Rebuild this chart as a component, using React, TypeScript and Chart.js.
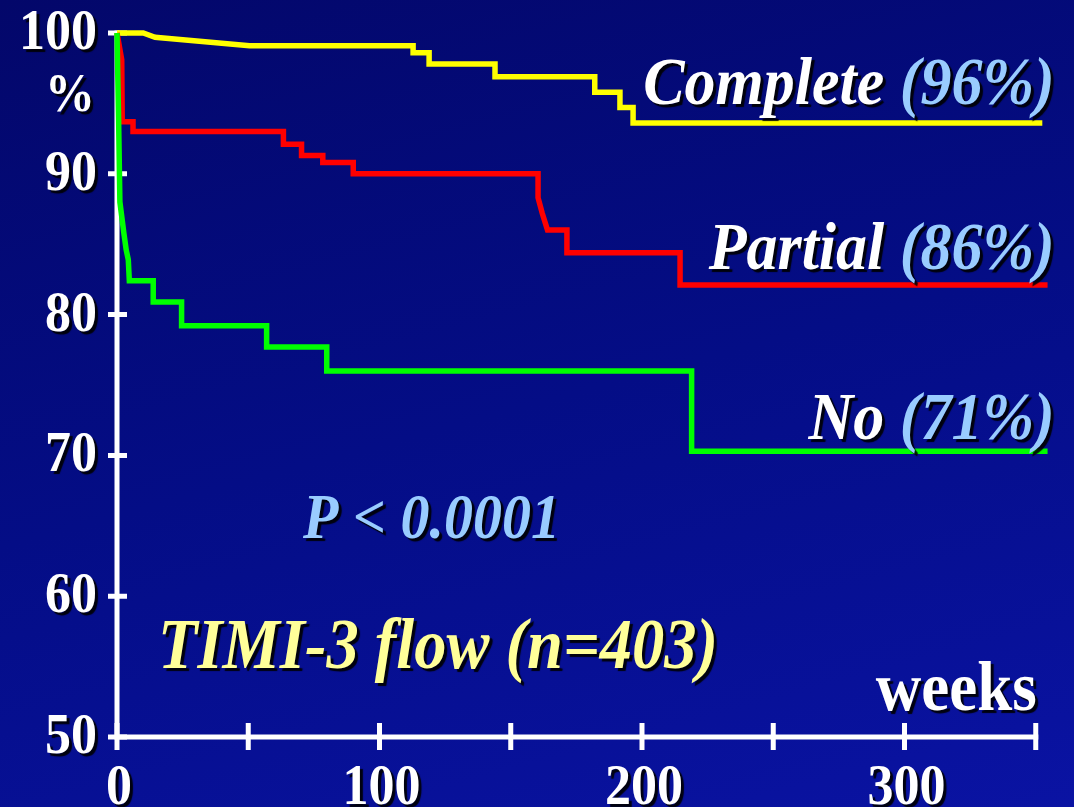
import React, { useEffect, useRef } from "react";
import { Chart, registerables } from "chart.js";

Chart.register(...registerables);

// Kaplan–Meier survival (%) by week for each TIMI-3 flow group
const completeWeeks = [0, 10, 14.5, 50.5, 112.8, 112.8, 118.9, 118.9, 144, 144, 182, 182, 191.6, 191.6, 196.6, 196.6, 352.5];
const completeSurvival = [100, 100, 99.7, 99.1, 99.1, 98.6, 98.6, 97.8, 97.8, 96.9, 96.9, 95.8, 95.8, 94.7, 94.7, 93.6, 93.6];

const partialWeeks = [0, 1.8, 2.0, 6.1, 6.1, 63.4, 63.4, 70.3, 70.3, 78.4, 78.4, 90.0, 90.0, 160.4, 160.4, 162, 164, 171.4, 171.4, 214.5, 214.5, 354.5];
const partialSurvival = [100, 98.1, 93.7, 93.7, 93.0, 93.0, 92.1, 92.1, 91.3, 91.3, 90.8, 90.8, 90.0, 90.0, 88.3, 87.2, 86.0, 86.0, 84.4, 84.4, 82.1, 82.1];

const noWeeks = [0, 0.6, 1.1, 2.6, 3.5, 4.3, 4.7, 13.8, 13.8, 24.6, 24.6, 57.0, 57.0, 79.9, 79.9, 218.9, 218.9, 354.5];
const noSurvival = [100, 94, 88, 85.8, 84.6, 83.9, 82.4, 82.4, 80.9, 80.9, 79.2, 79.2, 77.7, 77.7, 76.0, 76.0, 70.3, 70.3];

const groupNames = ["Complete", "Partial", "No"];
const groupRates = ["(96%)", "(86%)", "(71%)"];

const yTickValues = [50, 60, 70, 80, 90, 100];
const xTickMarks = [0, 50, 100, 150, 200, 250, 300, 350];
const xTickLabels = [0, 100, 200, 300];

const pValueText = "P < 0.0001";
const cohortText = "TIMI-3 flow (n=403)";
const xAxisTitle = "weeks";
const yAxisTitle = "%";

const SERIF = '"Liberation Serif", "Times New Roman", serif';
const TEXT_STRETCH = 1.1;

const toPoints = (xs: number[], ys: number[]) => xs.map((x, i) => ({ x, y: ys[i] }));

function withShadow(ctx: CanvasRenderingContext2D, draw: () => void) {
  ctx.save();
  ctx.shadowColor = "rgba(0,0,0,0.9)";
  ctx.shadowOffsetX = 3;
  ctx.shadowOffsetY = 3;
  ctx.shadowBlur = 1;
  draw();
  ctx.restore();
}

// slide-style lettering: slightly taller than the plain face
function tallText(ctx: CanvasRenderingContext2D, text: string, x: number, y: number) {
  ctx.save();
  ctx.translate(x, y);
  ctx.scale(1, TEXT_STRETCH);
  ctx.fillText(text, 0, 0);
  ctx.restore();
}

// White axes with ticks that cross the axis line, drawn beneath the curves
const axesPlugin = {
  id: "kmAxes",
  beforeDatasetsDraw(chart: any) {
    const { ctx } = chart;
    const xs = chart.scales.x;
    const ys = chart.scales.y;
    const x0 = xs.getPixelForValue(0);
    const xEnd = xs.getPixelForValue(350);
    const yBottom = ys.getPixelForValue(50);
    const yTop = ys.getPixelForValue(100);
    ctx.save();
    ctx.strokeStyle = "#ffffff";
    ctx.lineWidth = 5;
    ctx.lineCap = "butt";
    ctx.beginPath();
    ctx.moveTo(x0, yTop - 2.5);
    ctx.lineTo(x0, yBottom + 2.5);
    ctx.moveTo(x0 - 2.5, yBottom);
    ctx.lineTo(xEnd + 2.5, yBottom);
    ctx.stroke();
    ctx.lineWidth = 5;
    ctx.beginPath();
    for (const v of yTickValues) {
      const py = ys.getPixelForValue(v);
      ctx.moveTo(x0 - 9, py);
      ctx.lineTo(x0 + 10, py);
    }
    for (const v of xTickMarks) {
      const px = xs.getPixelForValue(v);
      ctx.moveTo(px, yBottom - 14);
      ctx.lineTo(px, yBottom + 13);
    }
    ctx.stroke();
    ctx.restore();
  },
};

// Tick labels, titles and group annotations
const textPlugin = {
  id: "kmText",
  afterDatasetsDraw(chart: any) {
    const { ctx } = chart;
    const xs = chart.scales.x;
    const ys = chart.scales.y;
    const x0 = xs.getPixelForValue(0);
    const yBottom = ys.getPixelForValue(50);

    withShadow(ctx, () => {
      ctx.fillStyle = "#ffffff";
      ctx.font = `bold 52px ${SERIF}`;
      ctx.textBaseline = "alphabetic";
      ctx.textAlign = "right";
      for (const v of yTickValues) {
        tallText(ctx, String(v), x0 - 20, ys.getPixelForValue(v) + 16);
      }
      ctx.textAlign = "center";
      for (const v of xTickLabels) {
        tallText(ctx, String(v), xs.getPixelForValue(v) + 2, yBottom + 67);
      }
      ctx.textAlign = "left";
      ctx.font = `bold 50px ${SERIF}`;
      tallText(ctx, yAxisTitle, x0 - 72, ys.getPixelForValue(100) + 78);

      ctx.textAlign = "right";
      ctx.font = `bold 63px ${SERIF}`;
      tallText(ctx, xAxisTitle, xs.getPixelForValue(350) + 1, yBottom - 27);

      // group labels at the right end of each curve
      const ends = [
        completeSurvival[completeSurvival.length - 1],
        partialSurvival[partialSurvival.length - 1],
        noSurvival[noSurvival.length - 1],
      ];
      const lifts = [19, 16, 12];
      const xRight = xs.getPixelForValue(350) + 19;
      ctx.font = `bold italic 62px ${SERIF}`;
      groupNames.forEach((name, i) => {
        const by = ys.getPixelForValue(ends[i]) - lifts[i];
        ctx.textAlign = "right";
        ctx.fillStyle = "#99ccff";
        tallText(ctx, groupRates[i], xRight, by);
        const rw = ctx.measureText(groupRates[i]).width;
        const sw = ctx.measureText(" ").width;
        ctx.fillStyle = "#ffffff";
        tallText(ctx, name, xRight - rw - sw, by);
      });

      ctx.textAlign = "left";
      ctx.fillStyle = "#99ccff";
      ctx.font = `bold italic 58px ${SERIF}`;
      tallText(ctx, pValueText, x0 + 186, yBottom - 199);

      ctx.fillStyle = "#ffff99";
      ctx.font = `bold italic 64.5px ${SERIF}`;
      tallText(ctx, cohortText, x0 + 41, yBottom - 69);
    });
  },
};

export default function App() {
  const canvasRef = useRef<HTMLCanvasElement | null>(null);

  useEffect(() => {
    const canvas = canvasRef.current;
    if (!canvas) return;
    const line = {
      borderWidth: 5.5,
      pointRadius: 0,
      tension: 0,
      borderJoinStyle: "miter" as const,
      borderCapStyle: "butt" as const,
      clip: false as const,
      fill: false,
    };
    const chart = new Chart(canvas, {
      type: "line",
      data: {
        datasets: [
          { ...line, label: "Complete", data: toPoints(completeWeeks, completeSurvival), borderColor: "#ffff00", order: 3 },
          { ...line, label: "Partial", data: toPoints(partialWeeks, partialSurvival), borderColor: "#ff0000", order: 2 },
          { ...line, label: "No", data: toPoints(noWeeks, noSurvival), borderColor: "#00ff00", order: 1 },
        ],
      },
      options: {
        animation: false,
        responsive: false,
        events: [],
        layout: { padding: { left: 117, right: 12, top: 33, bottom: 70 } },
        scales: {
          x: { type: "linear", min: 0, max: 360, display: false },
          y: { type: "linear", min: 50, max: 100, display: false },
        },
        plugins: { legend: { display: false }, tooltip: { enabled: false } },
      },
      plugins: [axesPlugin, textPlugin],
    });
    return () => chart.destroy();
  }, []);

  return (
    <div
      style={{
        position: "fixed",
        left: 0,
        top: 0,
        width: 1074,
        height: 807,
        background: "linear-gradient(165deg, #03076a 0%, #040d86 50%, #0a13a3 100%)",
      }}
    >
      <canvas ref={canvasRef} width={1074} height={807} style={{ display: "block" }} />
    </div>
  );
}
